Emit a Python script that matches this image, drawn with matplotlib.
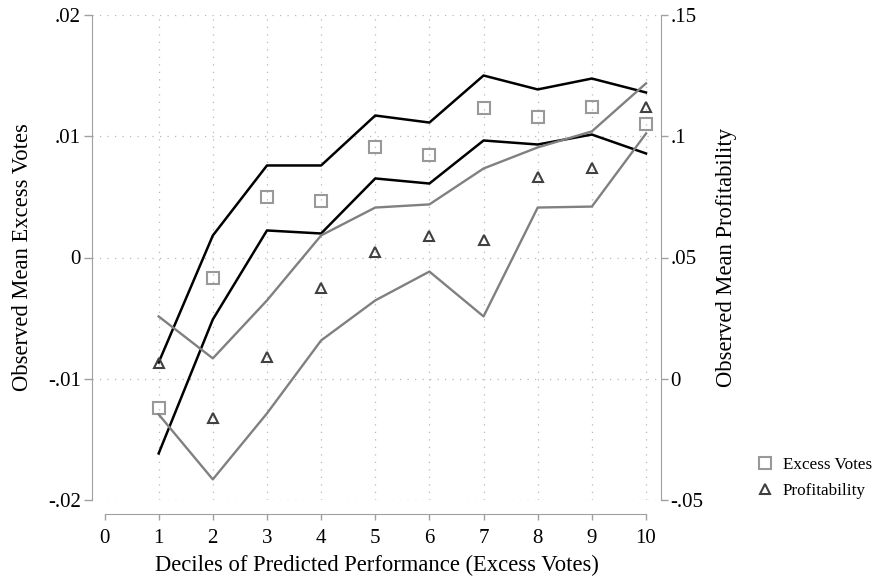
import matplotlib
matplotlib.use("Agg")
import matplotlib.pyplot as plt
from matplotlib.lines import Line2D

plt.rcParams['font.family'] = ['Liberation Serif', 'DejaVu Serif']

deciles = [1, 2, 3, 4, 5, 6, 7, 8, 9, 10]
# Excess votes (left axis)
ev_mean = [-0.01245, -0.00165, 0.00495, 0.00470, 0.00915, 0.00849, 0.01237, 0.01155, 0.01245, 0.01105]
ev_upper = [-0.00866, 0.00181, 0.00759, 0.00759, 0.01171, 0.01113, 0.01501, 0.01386, 0.01476, 0.01361]
ev_lower = [-0.01616, -0.00511, 0.00223, 0.00198, 0.00652, 0.00610, 0.00965, 0.00932, 0.01014, 0.00858]
# Profitability (right axis)
pr_mean = [0.0067, -0.0160, 0.0088, 0.0376, 0.0521, 0.0587, 0.0574, 0.0834, 0.0871, 0.1119]
pr_upper = [0.0257, 0.0084, 0.0323, 0.0591, 0.0706, 0.0719, 0.0867, 0.0954, 0.1020, 0.1218]
pr_lower = [-0.0147, -0.0415, -0.0143, 0.0158, 0.0323, 0.0442, 0.0257, 0.0706, 0.0710, 0.1011]

xticks = list(range(0, 11))
left_ticks = [-0.02, -0.01, 0.0, 0.01, 0.02]
left_labels = ['-.02', '-.01', '0', '.01', '.02']
right_ticks = [-0.05, 0.0, 0.05, 0.10, 0.15]
right_labels = ['-.05', '0', '.05', '.1', '.15']

fig = plt.figure(figsize=(8.8, 5.78), dpi=100)
ax = fig.add_axes([92/880, 1-500/578, (661-92)/880, (500-15)/578])
ax2 = ax.twinx()

spine_col = '#a0a0a0'
grid_col = '#b8b8b8'

ax.set_xlim(-0.231, 10.277)
ax.set_ylim(-0.02, 0.02)
ax2.set_ylim(-0.05, 0.15)

# gridlines
for t in left_ticks:
    ax.axhline(t, color=grid_col, lw=0.9, ls=(0, (1, 5)), zorder=0)
for t in deciles:
    ax.axvline(t, color=grid_col, lw=0.9, ls=(0, (1, 5)), zorder=0)

ax.plot(deciles, ev_upper, color='black', lw=1.8, zorder=3)
ax.plot(deciles, ev_lower, color='black', lw=1.8, zorder=3)
ax.plot(deciles, ev_mean, ls='none', marker='s', ms=8, mfc='none', mec='#999999', mew=1.5, zorder=4)

ax2.plot(deciles, pr_upper, color='#808080', lw=1.7, zorder=3)
ax2.plot(deciles, pr_lower, color='#808080', lw=1.7, zorder=3)
ax2.plot(deciles, pr_mean, ls='none', marker='^', ms=7, mfc='none', mec='#404040', mew=1.5, zorder=4)

# spines
for a in (ax, ax2):
    a.spines['top'].set_visible(False)
    a.set_facecolor('none')
ax.spines['right'].set_visible(False)
ax2.spines['left'].set_visible(False)
ax2.spines['bottom'].set_visible(False)
ax.spines['left'].set_color(spine_col)
ax2.spines['right'].set_color(spine_col)
ax.spines['bottom'].set_color(spine_col)
ax.spines['bottom'].set_position(('outward', 10))
ax.spines['bottom'].set_bounds(0, 10)

ax.set_xticks(xticks)
ax.set_xticklabels([str(t) for t in xticks])
ax.set_yticks(left_ticks)
ax.set_yticklabels(left_labels)
ax2.set_yticks(right_ticks)
ax2.set_yticklabels(right_labels)

ax.tick_params(axis='x', colors=spine_col, labelcolor='black', length=4, width=1, labelsize=15, pad=7)
ax.tick_params(axis='y', colors=spine_col, labelcolor='black', length=6, width=1, labelsize=15, pad=2)
ax2.tick_params(axis='y', colors=spine_col, labelcolor='black', length=5, width=1, labelsize=15, pad=2)

ax.set_xlabel('Deciles of Predicted Performance (Excess Votes)', fontsize=16.3, labelpad=5)
ax.set_ylabel('Observed Mean Excess Votes', fontsize=16.3, labelpad=11)
ax2.set_ylabel('Observed Mean Profitability', fontsize=16.3, labelpad=9, rotation=90)

handles = [Line2D([], [], ls='none', marker='s', ms=8, mfc='none', mec='#999999', mew=1.5),
           Line2D([], [], ls='none', marker='^', ms=7, mfc='none', mec='#404040', mew=1.5)]
fig.legend(handles, ['Excess Votes', 'Profitability'], loc='center left',
           bbox_to_anchor=(741/880, 1-478/578), frameon=False, fontsize=12.3,
           handlelength=1.0, handletextpad=0.55, labelspacing=0.6)

fig.savefig('out.png', dpi=100)
